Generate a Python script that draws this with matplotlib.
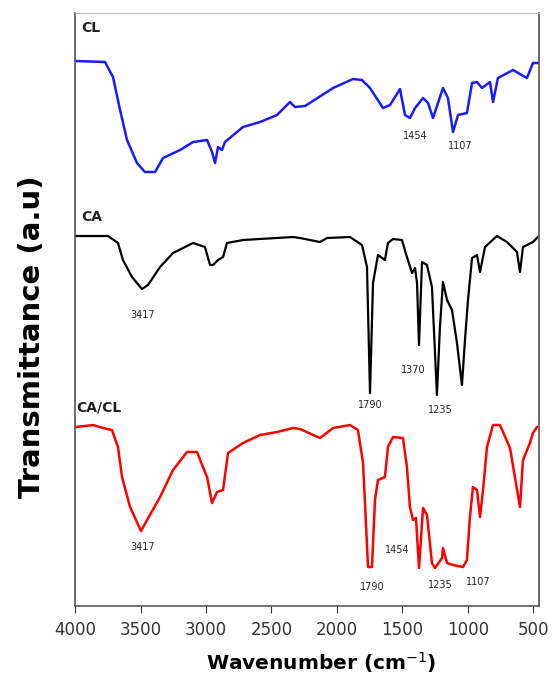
import numpy as np
import matplotlib.pyplot as plt

# CL spectrum (blue, top)
cl_wn = [3992, 3771, 3710, 3656, 3603, 3527, 3466, 3389, 3328, 3198, 3099, 2992, 2954, 2931,
         2908, 2878, 2855, 2718, 2588, 2458, 2359, 2321, 2244, 2030, 1878, 1809, 1748, 1649,
         1595, 1519, 1481, 1443, 1404, 1343, 1305, 1267, 1191, 1153, 1114, 1076, 1008, 969,
         931, 893, 832, 809, 771, 656, 550, 504, 466]
cl_t = [545, 544, 529, 496, 466, 443, 434, 434, 448, 456, 464, 466, 454, 443,
        459, 456, 464, 479, 484, 491, 504, 499, 500, 518, 527, 526, 518, 498,
        501, 517, 491, 488, 498, 508, 503, 488, 518, 508, 474, 491, 493, 523,
        524, 518, 524, 504, 528, 536, 528, 543, 543]

# CA spectrum (black, middle)
ca_wn = [3992, 3748, 3672, 3634, 3565, 3489, 3443, 3351, 3252, 3099, 3008, 2969, 2947, 2908,
         2870, 2840, 2718, 2336, 2282, 2130, 2076, 1901, 1809, 1771, 1748, 1725, 1687, 1634,
         1611, 1572, 1504, 1466, 1427, 1404, 1389, 1374, 1351, 1313, 1275, 1237, 1214, 1191,
         1160, 1122, 1084, 1046, 1023, 1000, 969, 931, 908, 870, 779, 702, 626, 603, 580,
         504, 466]
ca_t = [370, 370, 363, 346, 329, 317, 321, 339, 353, 363, 359, 341, 341, 346,
        349, 363, 366, 369, 368, 364, 368, 369, 361, 339, 213, 323, 351, 346,
        363, 367, 366, 349, 333, 338, 323, 261, 344, 341, 319, 211, 279, 324,
        306, 296, 263, 221, 266, 306, 348, 351, 334, 359, 370, 364, 354, 334, 359,
        364, 369]

# CA/CL spectrum (red, bottom)
cacl_wn = [3992, 3863, 3786, 3718, 3672, 3641, 3580, 3496, 3450, 3351, 3252, 3145, 3069, 2992,
           2954, 2916, 2870, 2832, 2718, 2588, 2458, 2336, 2282, 2130, 2030, 1901, 1840, 1801,
           1763, 1733, 1710, 1687, 1634, 1611, 1572, 1496, 1466, 1443, 1420, 1397, 1374, 1343,
           1313, 1275, 1252, 1198, 1191, 1160, 1114, 1038, 1008, 985, 962, 931, 908, 885, 855,
           809, 756, 679, 603, 580, 527, 504, 473]
cacl_t = [179, 181, 178, 176, 159, 129, 99, 75, 86, 109, 136, 154, 154, 129,
          103, 114, 116, 153, 163, 171, 174, 178, 177, 168, 178, 181, 176, 143,
          39, 39, 106, 126, 129, 159, 169, 168, 139, 99, 86, 88, 38, 98,
          91, 43, 38, 48, 58, 43, 41, 39, 46, 89, 119, 116, 89, 116, 159,
          181, 181, 158, 99, 146, 163, 173, 179]

# peak annotations: (text, wavenumber, height)
cl_peaks = [("1454", 1404, 470), ("1107", 1061, 460)]
ca_peaks = [("3417", 3481, 291), ("1790", 1748, 201), ("1370", 1420, 236), ("1235", 1214, 196)]
cacl_peaks = [("3417", 3481, 59), ("1790", 1733, 19), ("1454", 1542, 56),
              ("1235", 1214, 21), ("1107", 924, 24)]

fig = plt.figure(figsize=(5.52, 6.81), dpi=100)
ax = fig.add_axes([0.1359, 0.1101, 0.8405, 0.8708])

ax.plot(cl_wn, cl_t, color='#1a1aff', lw=1.8)
ax.plot(ca_wn, ca_t, color='black', lw=1.6)
ax.plot(cacl_wn, cacl_t, color='#ff0000', lw=1.8)

for txt, x, y in cl_peaks + ca_peaks + cacl_peaks:
    ax.text(x, y, txt, fontsize=7, ha='center', va='center', color='#222222')

ax.text(3955, 578, "CL", fontsize=10, fontweight='bold', color='#222222', va='center')
ax.text(3955, 389, "CA", fontsize=10, fontweight='bold', color='#222222', va='center')
ax.text(3990, 199, "CA/CL", fontsize=10, fontweight='bold', color='#222222', va='center')

ax.set_xlim(4000, 458)
ax.set_ylim(0, 593)
ax.set_xticks([4000, 3500, 3000, 2500, 2000, 1500, 1000, 500])
ax.set_yticks([])
ax.tick_params(axis='x', direction='out', length=5, labelsize=12, colors='#333333', pad=6)

for s in ['left', 'right', 'bottom']:
    ax.spines[s].set_color('#555555')
    ax.spines[s].set_linewidth(1.2)
ax.spines['top'].set_color('#bbbbbb')

ax.set_xlabel("Wavenumber (cm$^{-1}$)", fontsize=14.5, fontweight='bold')
ax.set_ylabel("Transmittance (a.u)", fontsize=21, fontweight='bold')
ax.xaxis.set_label_coords(0.53, -0.075)
ax.yaxis.set_label_coords(-0.062, 0.455)

fig.savefig('out.png', dpi=100)
